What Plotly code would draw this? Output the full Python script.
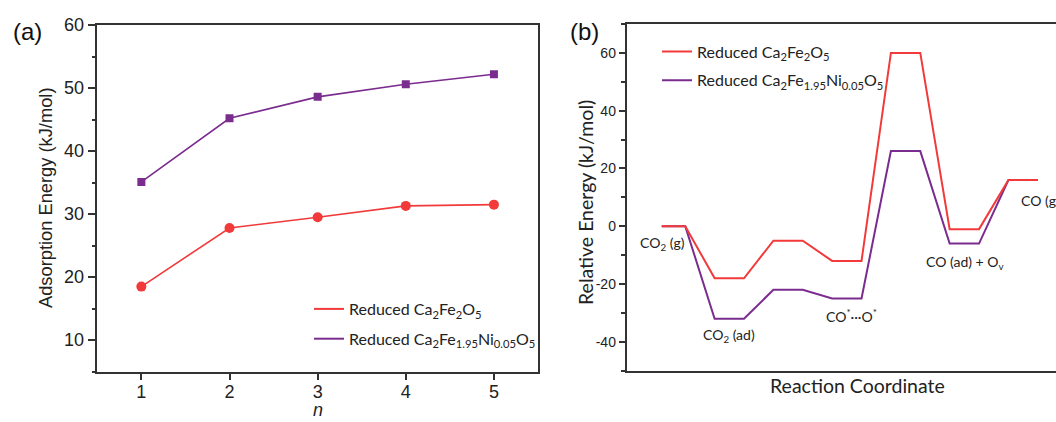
import plotly.graph_objects as go

# ---------------- data ----------------
# Panel (a): adsorption energy vs n
n_values = [1, 2, 3, 4, 5]
ads_ca2fe2o5 = [18.5, 27.8, 29.5, 31.3, 31.5]
ads_ca2fe195ni005o5 = [35.1, 45.2, 48.6, 50.6, 52.2]

# Panel (b): relative energy profile (kJ/mol) for each state
states = ["CO2 (g)", "CO2 (ad)", "TS1", "CO*...O*", "TS2", "CO (ad) + Ov", "CO (g)"]
rel_ca2fe2o5 = [0, -18, -5, -12, 60, -1, 16]
rel_ca2fe195ni005o5 = [0, -32, -22, -25, 26, -6, 16]

# tick labels
a_yticks = [10, 20, 30, 40, 50, 60]
b_yticks = [-40, -20, 0, 20, 40, 60]
b_yticktext = ["-40", "-20", "0", "20", "40", "60"]

name_red = "Reduced Ca<sub>2</sub>Fe<sub>2</sub>O<sub>5</sub>"
name_purple = "Reduced Ca<sub>2</sub>Fe<sub>1.95</sub>Ni<sub>0.05</sub>O<sub>5</sub>"

RED = "#F23A3A"
PURPLE = "#7B2C8F"
AX = "#333333"
SANS = "Liberation Sans, Arial, sans-serif"
HUM = "Lato, Open Sans, sans-serif"


def step_path(levels, first_start=0.2):
    xs, ys = [], []
    for i, e in enumerate(levels):
        start = first_start if i == 0 else 2 * i
        xs += [start, 2 * i + 1]
        ys += [e, e]
    return xs, ys


fig = go.Figure()

# ---- panel (a) ----
fig.add_trace(go.Scatter(x=n_values, y=ads_ca2fe2o5, mode="lines+markers",
                         line=dict(color=RED, width=1.6),
                         marker=dict(symbol="circle", size=10, color=RED),
                         showlegend=False, xaxis="x", yaxis="y"))
fig.add_trace(go.Scatter(x=n_values, y=ads_ca2fe195ni005o5, mode="lines+markers",
                         line=dict(color=PURPLE, width=1.6),
                         marker=dict(symbol="square", size=8, color=PURPLE),
                         showlegend=False, xaxis="x", yaxis="y"))
# legend entries (lines only)
fig.add_trace(go.Scatter(x=[None], y=[None], mode="lines", name=name_red,
                         line=dict(color=RED, width=2), legend="legend",
                         legendgroup="a1", xaxis="x", yaxis="y"))
fig.add_trace(go.Scatter(x=[None], y=[None], mode="lines", name=name_purple,
                         line=dict(color=PURPLE, width=2), legend="legend",
                         legendgroup="a2", xaxis="x", yaxis="y"))

# ---- panel (b) ----
xp, yp = step_path(rel_ca2fe195ni005o5)
xr, yr = step_path(rel_ca2fe2o5)
fig.add_trace(go.Scatter(x=xp, y=yp, mode="lines", line=dict(color=PURPLE, width=2),
                         showlegend=False, xaxis="x2", yaxis="y2"))
fig.add_trace(go.Scatter(x=xr, y=yr, mode="lines", line=dict(color=RED, width=2),
                         showlegend=False, xaxis="x2", yaxis="y2"))
fig.add_trace(go.Scatter(x=[None], y=[None], mode="lines", name=name_red,
                         line=dict(color=RED, width=2), legend="legend2",
                         legendgroup="b1", xaxis="x2", yaxis="y2"))
fig.add_trace(go.Scatter(x=[None], y=[None], mode="lines", name=name_purple,
                         line=dict(color=PURPLE, width=2), legend="legend2",
                         legendgroup="b2", xaxis="x2", yaxis="y2"))

W, H = 1056, 422

common_line = dict(showline=True, linewidth=1.5, linecolor=AX, showgrid=False,
                   zeroline=False, tickcolor=AX, tickwidth=1.5, automargin=False)

fig.update_layout(
    width=W, height=H,
    margin=dict(l=0, r=0, t=0, b=0, pad=0, autoexpand=False),
    paper_bgcolor="white", plot_bgcolor="white",
    xaxis=dict(domain=[97.3 / W, 538 / W], range=[0.5, 5.5], tickvals=n_values,
               ticks="outside", ticklen=7, mirror=True, anchor="y", ticklabelstandoff=-4,
               tickfont=dict(family=SANS, size=18, color="#222"), **common_line),
    yaxis=dict(domain=[1 - 371.7 / H, 1 - 25 / H], range=[5, 60], tickvals=a_yticks,
               ticks="outside", ticklen=8, mirror=True, anchor="x",
               minor=dict(dtick=5, tick0=0, ticks="outside", ticklen=4, tickcolor=AX, tickwidth=1.5),
               tickfont=dict(family=SANS, size=18, color="#222"), **common_line),
    xaxis2=dict(domain=[626.5 / W, 1.0], range=[-1, 13.62], showticklabels=False,
                ticks="", mirror=True, anchor="y2", **common_line),
    yaxis2=dict(domain=[1 - 370.7 / H, 1 - 24 / H], range=[-50, 70],
                tickvals=b_yticks, ticktext=b_yticktext,
                ticks="outside", ticklen=6, mirror=False, anchor="x2",
                minor=dict(dtick=10, tick0=0, ticks="outside", ticklen=4, tickcolor=AX, tickwidth=1.5),
                tickfont=dict(family=SANS, size=14, color="#222"), **common_line),
    legend=dict(x=309 / W, y=1 - 292 / H, xanchor="left", yanchor="top",
                bgcolor="rgba(0,0,0,0)", traceorder="grouped", tracegroupgap=6,
                font=dict(family=HUM, size=16, color="#222")),
    legend2=dict(x=657 / W, y=1 - 34.5 / H, xanchor="left", yanchor="top",
                 bgcolor="rgba(0,0,0,0)", traceorder="grouped", tracegroupgap=5,
                 font=dict(family=HUM, size=16, color="#222")),
    showlegend=True,
)

ann = []


def paper_text(text, x, y, size, family, angle=0, color="#222"):
    ann.append(dict(text=text, x=x / W, y=1 - y / H, xref="paper", yref="paper",
                    xanchor="center", yanchor="middle", textangle=angle,
                    showarrow=False, font=dict(family=family, size=size, color=color)))


# panel labels
paper_text("(a)", 27, 31, 24, SANS, color="#111")
paper_text("(b)", 584.5, 31, 24, SANS, color="#111")
# axis titles
paper_text("Adsorption Energy (kJ/mol)", 45, 198, 18.3, SANS, angle=-90)
paper_text("<i>n</i>", 318, 410, 18, SANS)
paper_text("Relative Energy (kJ/mol)", 585, 203, 19.5, HUM, angle=-90)
paper_text("Reaction Coordinate", 857.5, 385, 19.5, HUM)

# state labels
lab_font = dict(family=HUM, size=14, color="#222")
ann.append(dict(text="CO<sub>2</sub> (g)", x=0.23, y=-6.0, xref="x2", yref="y2",
                showarrow=False, font=lab_font))
ann.append(dict(text="CO<sub>2</sub> (ad)", x=2.5, y=-37.8, xref="x2", yref="y2",
                showarrow=False, font=lab_font))
ann.append(dict(text="CO<sup>*</sup>···O<sup>*</sup>", x=6.66, y=-30.9, xref="x2", yref="y2",
                showarrow=False, font=lab_font))
ann.append(dict(text="CO (ad) + O<sub>v</sub>", x=10.52, y=-12.5, xref="x2", yref="y2",
                showarrow=False, font=lab_font))
ann.append(dict(text="CO (g)", x=12.36, y=8.9, xref="x2", yref="y2", xanchor="left",
                showarrow=False, font=lab_font))
fig.update_layout(annotations=ann)

fig.write_html("out.html")
